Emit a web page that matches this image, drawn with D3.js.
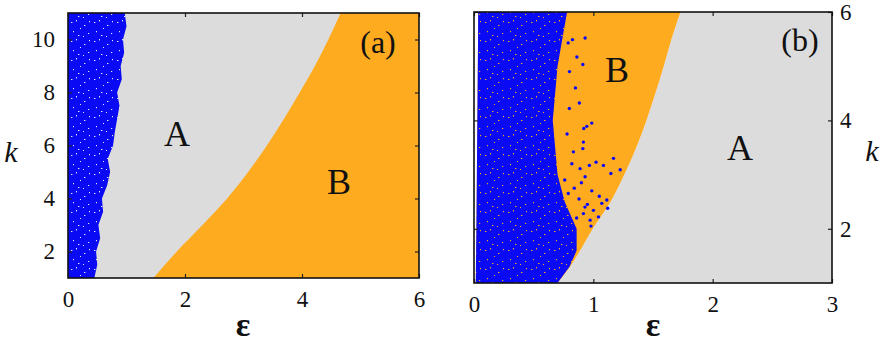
<!DOCTYPE html>
<html>
<head>
<meta charset="utf-8">
<script src="https://cdn.jsdelivr.net/npm/d3@7"></script>
<style>
 body { margin: 0; background: #fff; }
 svg text { font-family: "Liberation Serif", "Times New Roman", "DejaVu Serif", serif; fill: #111; }
 .tick line { stroke: #222; stroke-width: 1.2; }
 .tick text { font-size: 23px; }
</style>
</head>
<body>
<svg id="graph"></svg>
<script>
// panel (a): boundaries read along k
let kA = [1, 2, 3, 4, 5, 6, 7, 8, 9, 10, 11];
let orangeEdgeA = [1.46, 1.86, 2.30, 2.72, 3.08, 3.40, 3.69, 3.96, 4.22, 4.45, 4.66];
let kBlueA = [1, 1.5, 2, 2.5, 3, 3.5, 4, 4.5, 5, 5.5, 6, 6.5, 7, 7.5, 8, 8.5, 9, 9.5, 10, 10.5, 11];
let blueEdgeA = [0.45, 0.50, 0.48, 0.55, 0.52, 0.60, 0.58, 0.67, 0.72, 0.68, 0.77, 0.80, 0.84, 0.88, 0.84, 0.92, 0.90, 0.96, 0.94, 1.00, 0.97];

// panel (b)
let kB = [1, 1.3, 1.6, 2, 2.5, 3, 3.5, 4, 4.5, 5, 5.5, 6];
let grayEdgeB = [0.70, 0.805, 0.89, 0.995, 1.145, 1.26, 1.36, 1.445, 1.52, 1.59, 1.655, 1.73];
let blueLeftB = [0.015, 0.016, 0.018, 0.02, 0.022, 0.024, 0.026, 0.028, 0.03, 0.032, 0.034, 0.035];
let blueEdgeB = [0.70, 0.80, 0.86, 0.86, 0.76, 0.70, 0.68, 0.66, 0.68, 0.70, 0.74, 0.78];
// isolated blue points in region B
let dotEpsB = [0.931, 0.825, 0.789, 0.862, 0.912, 0.883, 0.799, 0.987, 0.945, 0.917, 0.912, 0.833, 1.169, 1.085, 1.023, 0.967, 1.225, 0.889, 1.147, 0.931, 0.987, 1.113, 1.071, 1.001, 1.043, 0.973, 0.917,
 0.80, 0.85, 0.78, 0.82, 0.90, 0.76, 0.95, 0.88, 1.05, 0.98, 0.93, 1.12, 0.86, 0.84, 0.79, 0.92];
let dotKB = [5.52, 5.49, 5.43, 5.17, 5.03, 4.32, 4.22, 3.95, 3.89, 3.60, 3.48, 3.42, 3.30, 3.17, 3.23, 3.17, 3.09, 3.11, 3.02, 2.96, 2.70, 2.53, 2.47, 2.34, 2.22, 2.16, 2.28,
 4.90, 4.60, 3.75, 3.20, 2.85, 2.90, 2.45, 2.55, 2.60, 2.05, 2.40, 2.38, 2.20, 2.75, 2.65, 3.85];

let ticksXA = [0, 2, 4, 6];
let ticksYA = [2, 4, 6, 8, 10];
let ticksXB = [0, 1, 2, 3];
let ticksYB = [2, 4, 6];

let gray = "#dcdcdc";
let orange = "#ffab1f";
let blue = "#0a0af5";
let serif = '"Liberation Serif", "Times New Roman", "DejaVu Serif", serif';

let svg = d3.select("#graph").attr("width", 885).attr("height", 345);

// speckle patterns for the scatter clouds
let defs = svg.append("defs");
function speckle(id, fg) {
 let p = defs.append("pattern").attr("id", id)
 .attr("patternUnits", "userSpaceOnUse").attr("width", 23).attr("height", 19);
 p.append("rect").attr("width", 23).attr("height", 19).attr("fill", blue);
 [[2, 3, 1.4, 1], [7, 1, 1, 1.4], [15, 6, 1.4, 1], [4, 12, 1, 1.2], [19, 14, 1.2, 1],
 [11, 9, 1, 1], [9, 16, 1.4, 1], [20, 2, 1, 1.2], [14, 17, 1, 1]].forEach(r => {
 p.append("rect").attr("x", r[0]).attr("y", r[1]).attr("width", r[2]).attr("height", r[3]).attr("fill", fg);
 });
}
speckle("specA", "#e8e8ff");
speckle("specB", orange);

function frame(g, sx, sy) {
 g.append("rect")
 .attr("x", sx.range()[0]).attr("y", sy.range()[1])
 .attr("width", sx.range()[1] - sx.range()[0])
 .attr("height", sy.range()[0] - sy.range()[1])
 .attr("fill", "none").attr("stroke", "#111").attr("stroke-width", 1.6);
}

function axes(g, sx, sy, tx, ty, rightLabels) {
 let x0 = sx.range()[0], x1 = sx.range()[1], y0 = sy.range()[0], y1 = sy.range()[1];
 let fmt = d3.format("d");
 g.append("g").attr("transform", `translate(0,${y0})`)
 .call(d3.axisBottom(sx).tickValues(tx).tickSize(-4).tickSizeOuter(0).tickPadding(13).tickFormat(fmt));
 g.append("g").attr("transform", `translate(0,${y1})`)
 .call(d3.axisTop(sx).tickValues(tx).tickSize(-4).tickSizeOuter(0).tickFormat(""));
 g.append("g").attr("transform", `translate(${x0},0)`)
 .call(d3.axisLeft(sy).tickValues(ty).tickSize(-4).tickSizeOuter(0).tickPadding(13)
 .tickFormat(rightLabels ? "" : fmt));
 g.append("g").attr("transform", `translate(${x1},0)`)
 .call(d3.axisRight(sy).tickValues(ty).tickSize(-4).tickSizeOuter(0).tickPadding(8)
 .tickFormat(rightLabels ? fmt : ""));
 g.selectAll(".domain").remove();
 g.selectAll("g").attr("font-family", serif).attr("font-size", 23);
}

function label(g, x, y, size, txt, style) {
 return g.append("text").attr("x", x).attr("y", y).attr("text-anchor", "middle")
 .attr("font-family", serif).style("font-size", size + "px")
 .style("font-style", style || "normal").text(txt);
}

// ---------- panel (a) ----------
let xA = d3.scaleLinear().domain([0, 6]).range([68, 419]);
let yA = d3.scaleLinear().domain([1, 11]).range([278, 13]);
let gA = svg.append("g");

gA.append("rect")
 .attr("x", xA(0)).attr("y", yA(11))
 .attr("width", xA(6) - xA(0)).attr("height", yA(1) - yA(11))
 .attr("fill", gray);

gA.append("path")
 .datum(kA.map((k, i) => ({ k: k, e: orangeEdgeA[i] })))
 .attr("fill", orange)
 .attr("d", d3.area().curve(d3.curveMonotoneY).y(d => yA(d.k)).x0(d => xA(d.e)).x1(xA(6)));

gA.append("path")
 .datum(kBlueA.map((k, i) => ({ k: k, e: blueEdgeA[i] })))
 .attr("fill", "url(#specA)")
 .attr("d", d3.area().y(d => yA(d.k)).x0(xA(0)).x1(d => xA(d.e)));

axes(gA, xA, yA, ticksXA, ticksYA, false);
frame(gA, xA, yA);

label(gA, 177, 146, 36, "A");
label(gA, 339, 194, 36, "B");
label(gA, 378, 53, 32, "(a)");
label(gA, 243, 336, 34, "ε").style("font-weight", "bold");
label(gA, 11, 162, 30, "k", "italic");

// ---------- panel (b) ----------
let xB = d3.scaleLinear().domain([0, 3]).range([474, 832]);
let yB = d3.scaleLinear().domain([1, 6]).range([283, 12]);
let gB = svg.append("g");

gB.append("path")
 .datum(kB.map((k, i) => ({ k: k, e: grayEdgeB[i] })))
 .attr("fill", gray)
 .attr("d", d3.area().curve(d3.curveMonotoneY).y(d => yB(d.k)).x0(d => xB(d.e)).x1(xB(3)));

gB.append("path")
 .datum(kB.map((k, i) => ({ k: k, l: blueLeftB[i], e: grayEdgeB[i] })))
 .attr("fill", orange)
 .attr("d", d3.area().curve(d3.curveMonotoneY).y(d => yB(d.k)).x0(d => xB(d.l)).x1(d => xB(d.e)));

gB.append("path")
 .datum(kB.map((k, i) => ({ k: k, l: blueLeftB[i], e: blueEdgeB[i] })))
 .attr("fill", "url(#specB)")
 .attr("d", d3.area().y(d => yB(d.k)).x0(d => xB(d.l)).x1(d => xB(d.e)));

gB.selectAll(".dot")
 .data(dotEpsB.map((e, i) => ({ e: e, k: dotKB[i] })))
 .enter()
 .append("circle")
 .attr("cx", d => xB(d.e))
 .attr("cy", d => yB(d.k))
 .attr("r", 1.7)
 .attr("fill", blue);

axes(gB, xB, yB, ticksXB, ticksYB, true);
frame(gB, xB, yB);

label(gB, 617, 82, 36, "B");
label(gB, 740, 160, 36, "A");
label(gB, 800, 51, 32, "(b)");
label(gB, 653, 336, 34, "ε").style("font-weight", "bold");
label(gB, 872, 161, 30, "k", "italic");
</script>
</body>
</html>
